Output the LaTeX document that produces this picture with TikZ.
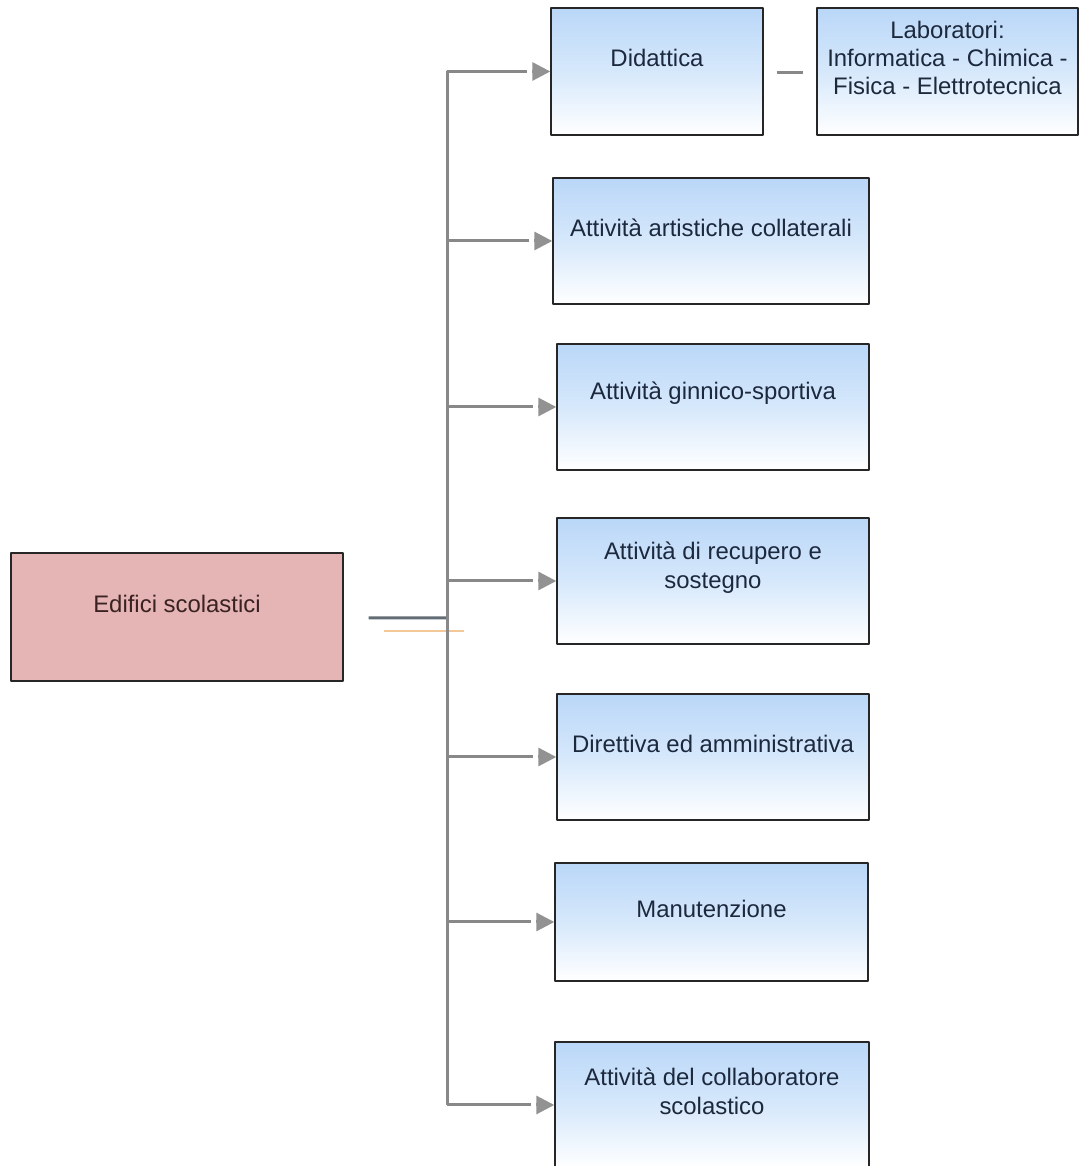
\documentclass[tikz,border=0pt]{standalone}
\usepackage{fontspec}
\setmainfont{Liberation Sans}
\usetikzlibrary{arrows.meta}
\definecolor{linkgray}{RGB}{136,136,136}
\definecolor{tipgray}{RGB}{146,146,146}
\definecolor{hubgray}{RGB}{98,108,116}
\definecolor{stubcol}{RGB}{242,200,152}
\definecolor{boxtop}{RGB}{186,215,248}
\definecolor{boxmid}{RGB}{214,232,251}
\definecolor{boxink}{RGB}{28,40,60}
\definecolor{rootfill}{RGB}{229,180,181}
\definecolor{rootink}{RGB}{58,34,34}
\begin{document}
\begin{tikzpicture}[>={Triangle[length=18bp,width=18bp]},line join=bevel,
  box/.style={draw=black!85,line width=1.4bp,minimum width=312bp,minimum height=126bp,inner sep=0pt,
    top color=boxtop,bottom color=white,middle color=boxmid},
  boxtext/.style={align=center,yshift=13.5bp,text=boxink,inner sep=0pt,
    font=\fontsize{24}{28.5}\selectfont},
  link/.style={draw=linkgray,line width=3bp,shorten >=23bp},
  tip/.style={->,draw=tipgray,line width=3bp},
]
%%
\useasboundingbox (0bp,0bp) rectangle (1088bp,1166bp);
%
  \node (edifici) at (177bp,549bp) [draw=black!85,line width=1.4bp,fill=rootfill,minimum width=332bp,minimum height=128bp,
    label={[boxtext,text=rootink]center:Edifici scolastici}] {};
  \node (didattica) at (657bp,1094.5bp) [box,minimum width=212bp,minimum height=127bp,
    label={[boxtext]center:Didattica}] {};
  \node (laboratori) at (947.5bp,1094.5bp) [box,minimum width=261bp,minimum height=127bp,
    label={[boxtext]center:Laboratori:\\Informatica - Chimica -\\Fisica - Elettrotecnica}] {};
  \node (artistiche) at (711bp,925bp) [box,minimum width=316bp,
    label={[boxtext]center:Attività artistiche collaterali}] {};
  \node (ginnico) at (713bp,759bp) [box,
    label={[boxtext]center:Attività ginnico-sportiva}] {};
  \node (recupero) at (713bp,585bp) [box,
    label={[boxtext]center:Attività di recupero e\\sostegno}] {};
  \node (direttiva) at (713bp,409bp) [box,
    label={[boxtext]center:Direttiva ed amministrativa}] {};
  \node (manutenzione) at (711.5bp,244bp) [box,minimum width=313bp,minimum height=118bp,
    label={[boxtext]center:Manutenzione}] {};
  \node (collaboratore) at (712bp,61bp) [box,minimum width=314bp,
    label={[boxtext]center:Attività del collaboratore\\scolastico}] {};
%
  \coordinate (hub) at (447bp,548bp);
  \draw [link,shorten >=0bp,draw=hubgray] ([xshift=25bp,yshift=-1bp]edifici.east) -- (hub);
  \draw [draw=stubcol,line width=2.2bp] ([xshift=40bp,yshift=-14bp]edifici.east) -- ++(80bp,0bp);
  \draw [link] (hub) |- (didattica);
  \draw [link] (hub) |- (artistiche);
  \draw [link] (hub) |- (ginnico);
  \draw [link] (hub) |- (recupero);
  \draw [link] (hub) |- (direttiva);
  \draw [link] (hub) |- (manutenzione);
  \draw [link] (hub) |- (collaboratore);
  \draw [tip] ([xshift=-18bp]didattica.west) -- (didattica.west);
  \draw [tip] ([xshift=-18bp]artistiche.west) -- (artistiche.west);
  \draw [tip] ([xshift=-18bp]ginnico.west) -- (ginnico.west);
  \draw [tip] ([xshift=-18bp]recupero.west) -- (recupero.west);
  \draw [tip] ([xshift=-18bp]direttiva.west) -- (direttiva.west);
  \draw [tip] ([xshift=-18bp]manutenzione.west) -- (manutenzione.west);
  \draw [tip] ([xshift=-18bp]collaboratore.west) -- (collaboratore.west);
  \draw [link,shorten >=0bp] ([xshift=13bp,yshift=-1.5bp]didattica.east) -- ([xshift=-13bp,yshift=-1.5bp]laboratori.west);
%
\end{tikzpicture}
\end{document}
